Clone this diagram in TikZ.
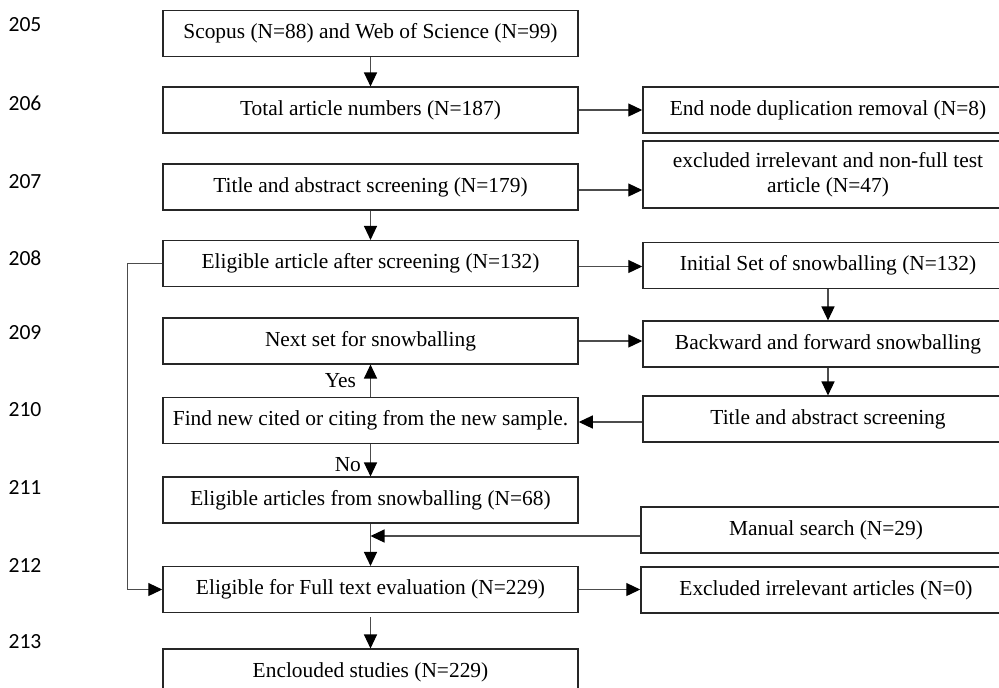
\documentclass[tikz,border=0pt]{standalone}
\usepackage{fontspec}
\setmainfont{Liberation Serif}
\newfontfamily\numfont{Carlito}
\usetikzlibrary{arrows.meta}

\begin{document}
\begin{tikzpicture}[x=0.5pt, y=-0.5pt,
    box/.style={rectangle, draw=black!85, line width=0.75pt, minimum height=22.8pt,
      inner sep=2pt, align=center, font=\fontsize{10.7}{12.4}\selectfont},
    lbox/.style={box, minimum width=207.5pt},
    rbox/.style={box, minimum width=185pt},
    flow/.style={draw=black!70, line width=0.6pt,
      -{Triangle[length=7pt, width=6.5pt, color=black]}},
    lbl/.style={font=\fontsize{10.7}{12.4}\selectfont, inner sep=1pt},
    lineno/.style={font=\numfont\fontsize{10.8}{12}\selectfont, inner sep=0pt}]
  \useasboundingbox (0,0) rectangle (999,687);
  % line numbers in the margin
  \foreach \n/\y in {205/25, 206/103, 207/182, 208/258, 209/333,
                     210/410, 211/487, 212/565, 213/642}
    \node [lineno] (n\n) at (25,\y) {\n};

  % main column
  \node [lbox] (scopus)   at (370.5,33.5) {Scopus (N=88) and Web of Science (N=99)};
  \node [lbox] (total)    at (370.5,110)  {Total article numbers (N=187)};
  \node [lbox] (title)    at (370.5,187)  {Title and abstract screening (N=179)};
  \node [lbox] (eligible) at (370.5,263.5){Eligible article after screening (N=132)};
  \node [lbox] (nextset)  at (370.5,341)  {Next set for snowballing};
  \node [lbox] (findnew)  at (370.5,420.5){Find new cited or citing from the new sample.};
  \node [lbox] (snowfrom) at (370.5,500)  {Eligible articles from snowballing (N=68)};
  \node [lbox] (fulltext) at (370.5,589.5){Eligible for Full text evaluation (N=229)};
  \node [lbox] (included) at (370.5,672)  {Enclouded studies (N=229)};

  % side column
  \node [rbox] (dup)      at (828,110)    {End node duplication removal (N=8)};
  \node [rbox, minimum height=33.5pt] (excl) at (828,174.5)
    {excluded irrelevant and non-full test\\ article (N=47)};
  \node [rbox] (initial)  at (828,265.5)  {Initial Set of snowballing (N=132)};
  \node [rbox] (backfwd)  at (828,344)    {Backward and forward snowballing};
  \node [rbox] (rtitle)   at (828,419)    {Title and abstract screening};
  \node [rbox] (manual)   at (826,530)    {Manual search (N=29)};
  \node [rbox] (exclirr)  at (826,590)    {Excluded irrelevant articles (N=0)};

  \draw [flow] (scopus.south) -- (total.north);
  \draw [flow] (total.east) -- (total.east -| dup.west);
  \draw [flow] ([yshift=-1.5pt]title.east) -- ([yshift=-1.5pt]title.east -| excl.west);
  \draw [flow] (title.south) -- (eligible.north);
  \draw [flow] ([yshift=-1.5pt]eligible.east) -- ([yshift=-1.5pt]eligible.east -| initial.west);
  \draw [flow] (eligible.west) -- ++(-35,0) |- (fulltext.west);
  \draw [flow] (initial.south) -- (backfwd.north);
  \draw [flow] (nextset.east) -- (nextset.east -| backfwd.west);
  \draw [flow] (backfwd.south) -- (rtitle.north);
  \draw [flow] ([yshift=-1.5pt]rtitle.west) -- ([yshift=-1.5pt]rtitle.west -| findnew.east);
  \draw [flow] (findnew.north) -- node [lbl, left, xshift=-6pt] (yes) {Yes} (nextset.south);
  \draw [flow] (findnew.south) -- node [lbl, left, xshift=-3.5pt, pos=0.62] (no) {No} (snowfrom.north);
  \draw [flow] (snowfrom.south) -- (fulltext.north);
  \draw [flow] ([yshift=-3pt]manual.west) -- ([yshift=-3pt]manual.west -| snowfrom.south);
  \draw [flow] (fulltext.east) -- (fulltext.east -| exclirr.west);
  \draw [flow, shorten <=2pt] (fulltext.south) -- (included.north);
\end{tikzpicture}
\end{document}
